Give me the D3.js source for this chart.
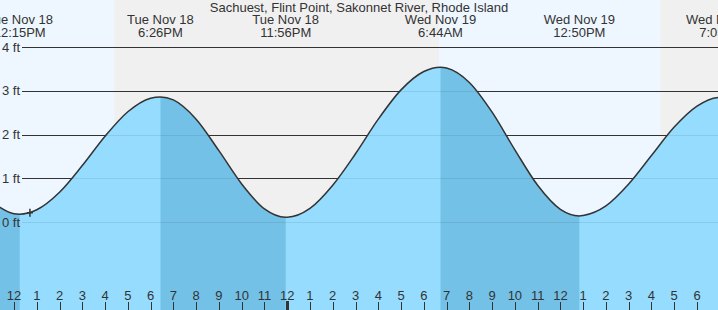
<!DOCTYPE html>
<html>
<head>
<meta charset="utf-8">
<script src="https://cdn.jsdelivr.net/npm/d3@7"></script>
<style>
  body { margin: 0; overflow: hidden; }
  text { font-family: "Liberation Sans", Arial, sans-serif; fill: #333; }
</style>
</head>
<body>
<script>
'use strict';

// tide heights (ft) read at every hour, starting Tue Nov 18 11:00
const hourStart = "2025-11-18 11:00";
const hourlyHeights = [0.47, 0.19, 0.28, 0.68, 1.29, 1.96, 2.52, 2.83, 2.79, 2.35,
  1.63, 0.87, 0.30, 0.11, 0.31, 0.84, 1.56, 2.35, 3.02, 3.44, 3.52, 3.19, 2.51,
  1.65, 0.84, 0.29, 0.15, 0.37, 0.87, 1.52, 2.17, 2.65, 2.85, 2.70];

// high / low tide events
const eventTimes = ["2025-11-18 12:15", "2025-11-18 18:26", "2025-11-18 23:56",
  "2025-11-19 06:44", "2025-11-19 12:50", "2025-11-19 19:05"];
const eventHeights = [0.18, 2.86, 0.11, 3.54, 0.14, 2.85];
const eventTypes = ["low", "high", "low", "high", "low", "high"];

// sunset / sunrise
const sunTimes = ["2025-11-18 16:24", "2025-11-19 06:40", "2025-11-19 16:23"];
const nowTime = "2025-11-18 12:42";
const nowHeight = 0.21;
const yTicks = [0, 1, 2, 3, 4];

const title = "Sachuest, Flint Point, Sakonnet River, Rhode Island";
const width = 718, height = 310;

const parse = d3.timeParse("%Y-%m-%d %H:%M");

const svg = d3.select('body').append('svg')
  .attr('width', width)
  .attr('height', height);

// x scale: hours of the tide window
const x = d3.scaleTime()
  .domain([parse("2025-11-18 12:00"), parse("2025-11-19 18:00")])
  .range([14, 697]);

const y = d3.scaleLinear()
  .domain([0, 4])
  .range([222, 47]);

// build the curve points
const t0 = parse(hourStart);
let points = hourlyHeights.map((h, i) => ({ t: d3.timeHour.offset(t0, i), h: h }));
eventTimes.forEach((s, i) => points.push({ t: parse(s), h: eventHeights[i] }));
points.sort((a, b) => a.t - b.t);

// day / night background
const sun = sunTimes.map(parse);
const edges = [x.invert(0)].concat(sun, [x.invert(width)]);
for (let i = 0; i < edges.length - 1; i++) {
  svg.append('rect')
    .attr('x', x(edges[i]))
    .attr('y', 0)
    .attr('width', x(edges[i + 1]) - x(edges[i]))
    .attr('height', height)
    .attr('fill', i % 2 === 0 ? '#eef7ff' : '#f0f0f0');
}

// grid lines (under the water)
svg.append('g').selectAll('line')
  .data(yTicks)
  .enter().append('line')
  .attr('x1', 22).attr('x2', width)
  .attr('y1', d => Math.round(y(d)) + 0.5)
  .attr('y2', d => Math.round(y(d)) + 0.5)
  .attr('stroke', '#333')
  .attr('stroke-width', 1);

// water area
const area = d3.area()
  .x(d => x(d.t))
  .y0(height)
  .y1(d => y(d.h))
  .curve(d3.curveMonotoneX);

const line = d3.line()
  .x(d => x(d.t))
  .y(d => y(d.h))
  .curve(d3.curveMonotoneX);

svg.append('clipPath').attr('id', 'water')
  .append('path').datum(points).attr('d', area);

svg.append('path')
  .datum(points)
  .attr('d', area)
  .attr('fill', '#95dcfe');

// falling tide shading
const water = svg.append('g').attr('clip-path', 'url(#water)');
const evDates = eventTimes.map(parse);
const falling = [];
if (eventTypes[0] === 'low') falling.push([x.invert(0), evDates[0]]);
eventTypes.forEach((ty, i) => {
  if (ty === 'high') falling.push([evDates[i], i + 1 < evDates.length ? evDates[i + 1] : x.invert(width)]);
});
water.selectAll('rect')
  .data(falling)
  .enter().append('rect')
  .attr('x', d => x(d[0]))
  .attr('y', 0)
  .attr('width', d => x(d[1]) - x(d[0]))
  .attr('height', height)
  .attr('fill', '#73c1e6');

// faint grid inside water
water.selectAll('line')
  .data(yTicks)
  .enter().append('line')
  .attr('x1', 22).attr('x2', width)
  .attr('y1', d => Math.round(y(d)) + 0.5)
  .attr('y2', d => Math.round(y(d)) + 0.5)
  .attr('stroke', 'rgba(0,0,0,0.08)');

// y labels on top
svg.append('g').selectAll('text')
  .data(yTicks)
  .enter().append('text')
  .attr('x', 20)
  .attr('y', d => y(d) + 4.5)
  .attr('text-anchor', 'end')
  .style('font-size', '13px')
  .text(d => d + ' ft');

// tide curve
svg.append('path')
  .datum(points)
  .attr('d', line)
  .attr('fill', 'none')
  .attr('stroke', '#333')
  .attr('stroke-width', 1.5);

// current time marker
const cx = x(parse(nowTime)), cy = y(nowHeight);
svg.append('path')
  .attr('d', `M${cx - 3},${cy}H${cx + 3}M${cx},${cy - 4}V${cy + 4}`)
  .attr('stroke', '#333')
  .attr('stroke-width', 1.5);

// hour axis
const hours = d3.timeHour.range(x.domain()[0], d3.timeHour.offset(x.domain()[1], 1));
const hourAxis = svg.append('g');
hourAxis.selectAll('line')
  .data(hours)
  .enter().append('line')
  .attr('x1', d => Math.round(x(d)) + 0.5)
  .attr('x2', d => Math.round(x(d)) + 0.5)
  .attr('y1', d => d.getHours() === 0 ? 301 : 302)
  .attr('y2', height)
  .attr('stroke', '#333')
  .attr('stroke-width', d => d.getHours() === 0 ? 3 : 1);
hourAxis.selectAll('text')
  .data(hours)
  .enter().append('text')
  .attr('x', d => x(d))
  .attr('y', 300)
  .attr('text-anchor', 'middle')
  .style('font-size', '13px')
  .text(d3.timeFormat('%-I'));

// title and event labels
svg.append('text')
  .attr('x', 359)
  .attr('y', 12)
  .attr('text-anchor', 'middle')
  .style('font-size', '13px')
  .text(title);

const evLabels = svg.append('g').selectAll('text')
  .data(evDates)
  .enter().append('text')
  .attr('text-anchor', 'middle')
  .style('font-size', '13px');
evLabels.append('tspan')
  .attr('x', d => x(d)).attr('y', 24)
  .text(d3.timeFormat('%a %b %-d'));
evLabels.append('tspan')
  .attr('x', d => x(d)).attr('y', 37)
  .text(d3.timeFormat('%-I:%M%p'));
</script>
</body>
</html>
